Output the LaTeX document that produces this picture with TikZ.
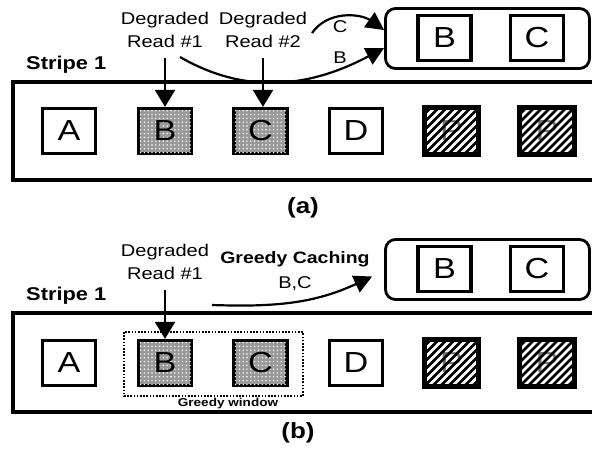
\documentclass[tikz,border=0pt]{standalone}
\usepackage{fontspec}
\setmainfont{Liberation Sans}[FakeStretch=1.18]
\usetikzlibrary{arrows.meta,patterns.meta}

\tikzset{
  blk/.style={draw, line width=3.2pt, minimum width=53pt, minimum height=45pt, inner sep=0pt, font=\fontsize{29}{30}\selectfont},
  shadeblk/.style={blk, fill=gray!80, postaction={pattern={Dots[radius=0.8pt,distance=3.8pt]}, pattern color=white}},
  stripe/.style={line width=3.2pt},
  cachebox/.style={draw, line width=2.8pt, rounded corners=10pt, minimum width=204pt, minimum height=60pt, inner sep=0pt},
  rd/.style={align=center, inner sep=0pt, font=\fontsize{17}{23.5}\selectfont},
  ttl/.style={inner sep=0pt, font=\bfseries\fontsize{18.5}{20}\selectfont},
  tag/.style={inner sep=0pt, font=\fontsize{17}{18}\selectfont},
  subcap/.style={inner sep=0pt, font=\bfseries\fontsize{22}{24}\selectfont},
  dr/.style={line width=2.2pt, -{Triangle[width=20pt,length=17pt]}},
  cv/.style={line width=2.2pt, -{Triangle[width=18pt,length=18pt]}},
}
% diagonal hatching over a parity block
\newcommand{\hatchin}[1]{%
  \begin{scope}
    \clip (#1.south west) rectangle (#1.north east);
    \foreach \k in {-8,...,8}
      \draw[line width=2.8pt] ([xshift=\k*8pt]#1.south west) -- ++(70pt,70pt);
  \end{scope}
  \draw[line width=3.2pt] (#1.south west) rectangle (#1.north east);}

\begin{document}
\begin{tikzpicture}[x=1pt,y=-1pt]
  \useasboundingbox (0,0) rectangle (592,449);
  % (a): two degraded reads
  \draw[stripe] (13,82) rectangle (600,180);
  \node[ttl, anchor=west] (stripeA) at (26,65) {Stripe 1};
  \node[blk] (aA) at (69,131) {A};
  \node[shadeblk] (aB) at (165,131) {B};
  \node[shadeblk] (aC) at (260.5,131) {C};
  \node[blk] (aD) at (356,131) {D};
  \node[blk, text=black!55] (aP1) at (451.5,131) {P};
  \node[blk, text=black!55] (aP2) at (547,131) {P};
  \hatchin{aP1}
  \hatchin{aP2}
  \node[rd] (rdA1) at (165,30) {Degraded\\Read \#1};
  \node[rd] (rdA2) at (263,30) {Degraded\\Read \#2};
  \draw[dr] ([yshift=-10pt]rdA1.south) -- (aB.north);
  \draw[dr] ([yshift=-10pt]rdA2.south) -- (rdA2.south |- aC.north);
  \node[cachebox] (cacheA) at (487.5,38.5) {};
  \node[blk] (caB) at (444.5,38) {B};
  \node[blk] (caC) at (537,38) {C};
  \coordinate (cfrom) at (312,33);
  \coordinate (bfrom) at (180,57);
  \draw[cv] (cfrom) to[out=55,in=145] ([yshift=8.5pt]cacheA.west);
  \draw[cv] (bfrom) to[out=-30,in=208] ([yshift=-9.5pt]cacheA.west);
  \node[tag] (tagC) at (340,27) {C};
  \node[tag] (tagB) at (340,58) {B};
  \node[subcap] (capA) at (303,208) {(a)};
  % (b): greedy caching
  \draw[stripe] (13,313) rectangle (600,412);
  \node[ttl, anchor=west] (stripeB) at (26,296) {Stripe 1};
  \draw[line width=2pt, dash pattern=on 1.6pt off 1.6pt] (124,332) rectangle (303,396);
  \node[inner sep=0pt, font=\bfseries\fontsize{11.5}{13}\selectfont] (gwin) at (228,404) {Greedy window};
  \node[blk] (bA) at (69,363) {A};
  \node[shadeblk] (bB) at (165,363) {B};
  \node[shadeblk] (bC) at (260.5,363) {C};
  \node[blk] (bD) at (356,363) {D};
  \node[blk, text=black!55] (bP1) at (451.5,363) {P};
  \node[blk, text=black!55] (bP2) at (547,363) {P};
  \hatchin{bP1}
  \hatchin{bP2}
  \node[rd] (rdB1) at (165,262) {Degraded\\Read \#1};
  \draw[dr] ([yshift=-10pt]rdB1.south) -- (bB.north);
  \node[cachebox] (cacheB) at (487.5,269.5) {};
  \node[blk] (cbB) at (444.5,269) {B};
  \node[blk] (cbC) at (537,269) {C};
  \node[inner sep=0pt, font=\bfseries\fontsize{16.5}{18}\selectfont] (greedy) at (295,259) {Greedy Caching};
  \node[tag] (tagBC) at (295,283.5) {B,C};
  \coordinate (gfrom) at (212,305);
  \draw[cv] (gfrom) to[out=-2,in=205] ([xshift=-12pt,yshift=-7pt]cacheB.west);
  \node[subcap] (capB) at (298,433) {(b)};
\end{tikzpicture}
\end{document}
